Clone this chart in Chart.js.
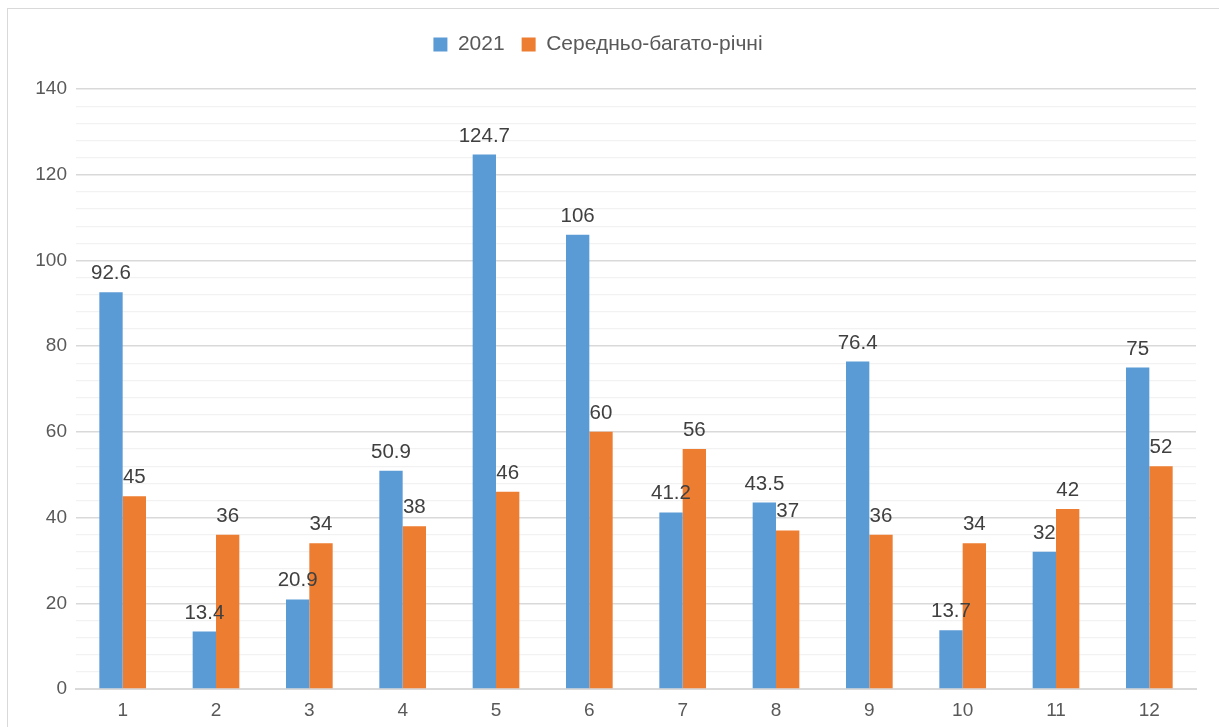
<!DOCTYPE html>
<html>
<head>
<meta charset="utf-8">
<script src="https://cdn.jsdelivr.net/npm/chart.js@4/dist/chart.umd.min.js"></script>
<style>
  html, body { margin: 0; padding: 0; background: #fff; }
  #wrap { position: relative; width: 1219px; height: 727px; overflow: hidden; }
  #frame { position: absolute; left: 7px; top: 8px; width: 1300px; height: 800px; border: 1px solid #d9d9d9; box-sizing: border-box; }
  #c { position: absolute; left: 0; top: 0; }
</style>
</head>
<body>
<div id="wrap">
  <div id="frame"></div>
  <canvas id="c" width="1219" height="727"></canvas>
</div>
<script>
const categories = ['1','2','3','4','5','6','7','8','9','10','11','12'];
const series2021 = [92.6, 13.4, 20.9, 50.9, 124.7, 106, 41.2, 43.5, 76.4, 13.7, 32, 75];
const seriesAvg = [45, 36, 34, 38, 46, 60, 56, 37, 36, 34, 42, 52];
const seriesNames = ['2021', 'Середньо-багато-річні'];
const yTickLabels = [0, 20, 40, 60, 80, 100, 120, 140];

const FONT = "'Liberation Sans', Arial, sans-serif";

const legendSizer = {
  id: 'legendSizer',
  beforeLayout(chart) {
    const lg = chart.legend;
    if (lg && !lg._sized) {
      const f = lg.fit;
      lg.fit = function () { f.call(this); this.height = 72; };
      lg._sized = true;
    }
  }
};

const dataLabels = {
  id: 'dataLabels',
  afterDatasetsDraw(chart) {
    const ctx = chart.ctx;
    ctx.save();
    ctx.font = '20.5px ' + FONT;
    ctx.fillStyle = '#404040';
    ctx.textAlign = 'center';
    ctx.textBaseline = 'alphabetic';
    chart.data.datasets.forEach((ds, i) => {
      const meta = chart.getDatasetMeta(i);
      meta.data.forEach((bar, j) => {
        ctx.fillText(String(ds.data[j]), bar.x, bar.y - 13);
      });
    });
    ctx.restore();
  }
};

new Chart(document.getElementById('c'), {
  type: 'bar',
  data: {
    labels: categories,
    datasets: [
      { label: seriesNames[0], data: series2021, backgroundColor: '#5B9BD5' },
      { label: seriesNames[1], data: seriesAvg, backgroundColor: '#ED7D31' }
    ]
  },
  options: {
    responsive: false,
    animation: false,
    events: [],
    layout: { padding: { top: 17, right: 23, left: 0, bottom: 0 } },
    datasets: { bar: { categoryPercentage: 0.5, barPercentage: 1.0 } },
    plugins: {
      legend: {
        position: 'top',
        labels: {
          boxWidth: 14, boxHeight: 14, padding: 17,
          color: '#595959',
          font: { family: FONT, size: 21 }
        }
      },
      tooltip: { enabled: false }
    },
    scales: {
      x: {
        grid: { display: false },
        border: { display: true, color: '#d9d9d9', width: 2 },
        ticks: { color: '#595959', font: { family: FONT, size: 19 }, padding: 2 },
        afterFit(s) { s.height = 38; }
      },
      y: {
        min: 0, max: 140,
        border: { display: false },
        grid: {
          drawTicks: false,
          color: (c) => (c.tick && c.tick.value % 20 === 0) ? '#d9d9d9' : '#f2f2f2',
          lineWidth: (c) => (c.tick && c.tick.value % 20 === 0) ? 1.5 : 1.2
        },
        ticks: {
          stepSize: 4,
          autoSkip: false,
          padding: 9,
          color: '#595959',
          font: { family: FONT, size: 19 },
          callback: (v) => yTickLabels.includes(v) ? String(v) : ''
        },
        afterFit(s) { s.width = 76; }
      }
    }
  },
  plugins: [legendSizer, dataLabels]
});
</script>
</body>
</html>
